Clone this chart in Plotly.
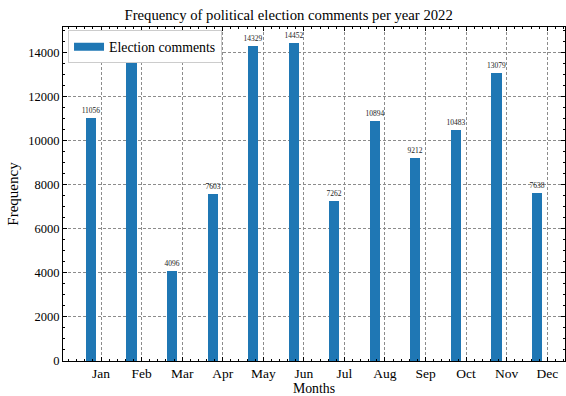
import plotly.graph_objects as go

months = ["Jan", "Feb", "Mar", "Apr", "May", "Jun",
          "Jul", "Aug", "Sep", "Oct", "Nov", "Dec"]
comments = [11056, 13968, 4096, 7603, 14329, 14452,
            7262, 10894, 9212, 10483, 13079, 7638]

bar_width = 0.25
bar_color = "#1f77b4"
idx = list(range(len(months)))
bar_x = [i - bar_width for i in idx]

font_family = "Liberation Serif, DejaVu Serif, serif"

fig = go.Figure()
fig.add_trace(go.Bar(
    x=bar_x, y=comments, width=bar_width,
    name="Election comments",
    showlegend=False,
    marker=dict(color=bar_color, line=dict(width=0)),
    text=[str(v) for v in comments],
    textposition="outside",
    constraintext="none",
    cliponaxis=False,
    textfont=dict(size=7.5, color="#222", family=font_family),
))
# legend entry drawn as a wide flat swatch
fig.add_trace(go.Scatter(
    x=[None], y=[None], mode="lines", name="Election comments",
    line=dict(color=bar_color, width=8),
))

span_lo = min(bar_x) - bar_width / 2
span_hi = max(bar_x) + bar_width / 2
pad = 0.05 * (span_hi - span_lo)

axis_common = dict(
    showline=True, linecolor="black", linewidth=1, mirror="ticks",
    ticks="inside", ticklen=4, tickcolor="black", tickwidth=1,
    showgrid=True, gridcolor="#8c8c8c", griddash="3px,2px", gridwidth=0.8,
    zeroline=False,
)
title_font = dict(family=font_family, size=13.8, color="black")

fig.update_xaxes(
    **axis_common,
    range=[span_lo - pad, span_hi + pad],
    tickvals=idx, ticktext=months,
    tickfont=dict(family=font_family, size=13.5, color="black"),
    minor=dict(dtick=0.2, tick0=0, ticks="inside", ticklen=2, tickcolor="black", showgrid=False),
    title=dict(text="Months", font=title_font, standoff=3),
)
fig.update_yaxes(
    **axis_common,
    range=[0, max(comments) * 1.05],
    dtick=2000, tick0=0, tickformat="d",
    tickfont=dict(family=font_family, size=12.5, color="black"),
    minor=dict(dtick=500, ticks="inside", ticklen=2, tickcolor="black", showgrid=False),
    title=dict(text="Frequency", font=dict(family=font_family, size=15, color="black"), standoff=6),
)

fig.update_layout(
    width=566, height=396,
    margin=dict(l=63, r=1, t=27, b=35),
    paper_bgcolor="white", plot_bgcolor="white",
    title=dict(text="Frequency of political election comments per year 2022",
               x=0.51, xanchor="center", y=0.975, yanchor="top",
               font=dict(family=font_family, size=14.7, color="black")),
    showlegend=True,
    legend=dict(x=0.01, y=0.99, xanchor="left", yanchor="top",
                bgcolor="white", bordercolor="#cccccc", borderwidth=1,
                itemwidth=30, tracegroupgap=0,
                font=dict(family=font_family, size=13.8, color="black")),
    bargap=0,
)

fig.write_html("out.html")
